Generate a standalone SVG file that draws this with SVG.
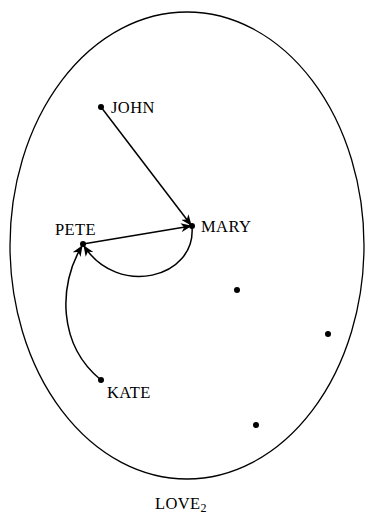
<svg xmlns="http://www.w3.org/2000/svg" width="373" height="523" viewBox="0 0 373 523">
<style>
.lbl{font-family:"Liberation Serif","DejaVu Serif",serif;font-size:16.5px;letter-spacing:0.4px;fill:#000}
.e{fill:none;stroke:#000;stroke-width:1.5}
</style>
<defs>
<marker id="ah" viewBox="0 0 11 9" refX="10" refY="4.5" markerWidth="11" markerHeight="9" markerUnits="userSpaceOnUse" orient="auto">
<path d="M0,0 L11,4.5 L0,9 L3,4.5 Z" fill="#000"/>
</marker>
</defs>
<rect width="373" height="523" fill="#fff"/>
<ellipse cx="187" cy="245.5" rx="177" ry="233.5" fill="none" stroke="#000" stroke-width="1.3"/>
<g id="connectors">
<path class="e" d="M101,107 L191,225" marker-end="url(#ah)"/>
<path class="e" d="M83,244 L191,226" marker-end="url(#ah)"/>
<path class="e" d="M192,227 C196,278 118,298 84,246" marker-end="url(#ah)"/>
<path class="e" d="M101,380 C58,345 58,285 82,246" marker-end="url(#ah)"/>
</g>
<g id="john"><circle cx="101" cy="107" r="3"/><text class="lbl" x="111" y="113">JOHN</text></g>
<g id="mary"><circle cx="192" cy="226" r="3"/><text class="lbl" x="201" y="231.5">MARY</text></g>
<g id="pete"><circle cx="83" cy="244" r="3"/><text class="lbl" x="55" y="235">PETE</text></g>
<g id="kate"><circle cx="101" cy="380" r="3"/><text class="lbl" x="107" y="398">KATE</text></g>
<g id="p1"><circle cx="237" cy="290" r="3"/></g>
<g id="p2"><circle cx="328" cy="334" r="3"/></g>
<g id="p3"><circle cx="256" cy="425" r="3"/></g>
<g id="title"><text class="lbl" x="155" y="509">LOVE<tspan font-size="12" dy="3">2</tspan></text></g>
</svg>
